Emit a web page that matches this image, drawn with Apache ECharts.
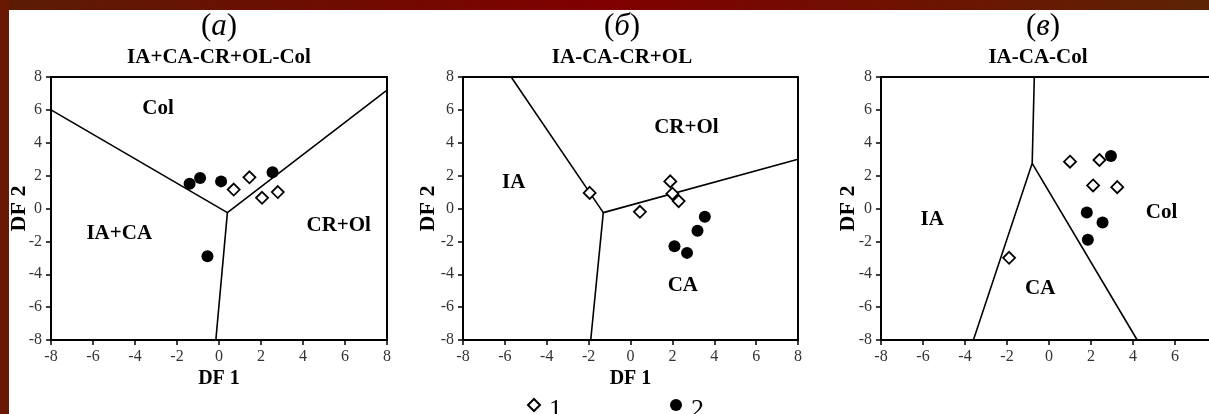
<!DOCTYPE html>
<html>
<head>
<meta charset="utf-8">
<script src="https://cdn.jsdelivr.net/npm/echarts@6/dist/echarts.min.js"></script>
<style>
html,body{margin:0;padding:0;background:#fff;}
#chart{width:1209px;height:414px;}
</style>
</head>
<body>
<div id="chart"></div>
<script>
// ---------- data ----------
const panelLetters = ['а', 'б', 'в'];
const panelTitles = ['IA+CA-CR+OL-Col', 'IA-CA-CR+OL', 'IA-CA-Col'];
const seriesNames = ['1', '2'];
const axisTicks = [-8, -6, -4, -2, 0, 2, 4, 6, 8];

// panel (а)
const a_type1 = [[0.7, 1.15], [1.45, 1.9], [2.05, 0.65], [2.8, 1.0]];
const a_type2 = [[-1.4, 1.5], [-0.9, 1.85], [0.1, 1.65], [2.55, 2.2], [-0.55, -2.9]];
const a_bounds = [
  [[-8, 6], [0.4, -0.25], [8, 7.2]],
  [[0.4, -0.25], [-0.15, -8]]
];
const a_regions = [['Col', -2.9, 6.1], ['IA+CA', -4.75, -1.5], ['CR+Ol', 5.7, -1.05]];

// panel (б)
const b_type1 = [[-1.95, 0.95], [0.45, -0.2], [1.9, 1.65], [2.0, 0.9], [2.3, 0.45]];
const b_type2 = [[2.1, -2.3], [2.7, -2.7], [3.2, -1.35], [3.55, -0.5]];
const b_bounds = [
  [[-5.7, 8], [-1.3, -0.25], [8, 3.0]],
  [[-1.3, -0.25], [-1.9, -8]]
];
const b_regions = [['CR+Ol', 2.67, 4.93], ['IA', -5.58, 1.56], ['CA', 2.5, -4.67]];

// panel (в)
const c_type1 = [[1.0, 2.85], [2.4, 2.95], [2.1, 1.4], [3.25, 1.3], [-1.9, -3.0]];
const c_type2 = [[2.95, 3.2], [1.8, -0.25], [2.55, -0.85], [1.85, -1.9]];
const c_bounds = [
  [[-0.7, 8], [-0.8, 2.75]],
  [[-3.6, -8], [-0.8, 2.75], [4.2, -8]]
];
const c_regions = [['IA', -5.56, -0.67], ['Col', 5.36, -0.26], ['CA', -0.42, -4.87]];

const panels = [
  {t1: a_type1, t2: a_type2, bounds: a_bounds, regions: a_regions, xName: 'DF 1'},
  {t1: b_type1, t2: b_type2, bounds: b_bounds, regions: b_regions, xName: 'DF 1'},
  {t1: c_type1, t2: c_type2, bounds: c_bounds, regions: c_regions, xName: ''}
];

// ---------- layout ----------
const SERIF = '"Liberation Serif", "DejaVu Serif", serif';
const grids = [
  {left: 51, top: 77, width: 336, height: 263},
  {left: 463, top: 77, width: 335, height: 263},
  {left: 881, top: 77, width: 336, height: 263}
];
const titleX = [219, 622, 1043];
const subX = [219, 622, 1038];
const yNameGap = [21, 24, 22];

const chart = echarts.init(document.getElementById('chart'), null, {renderer: 'canvas'});

const option = {
  backgroundColor: '#ffffff',
  animation: false,
  title: [],
  legend: {
    data: seriesNames,
    left: 527, top: 397, padding: 0,
    itemWidth: 12, itemHeight: 12,
    itemGap: 108,
    formatter: name => '{t|' + name + '}',
    textStyle: {fontFamily: SERIF, fontSize: 26, color: '#000',
      rich: {t: {fontFamily: SERIF, fontSize: 26, color: '#000', padding: [10, 0, 0, 4]}}}
  },
  grid: [], xAxis: [], yAxis: [], series: [],
  graphic: [
    {type: 'rect', left: 0, top: 0, shape: {width: 1209, height: 10}, z: 100,
     style: {fill: new echarts.graphic.LinearGradient(0, 0, 1, 0, [
       {offset: 0, color: '#5a1c04'}, {offset: 0.5, color: '#800000'}, {offset: 1, color: '#5c2404'}])}},
    {type: 'rect', left: 0, top: 0, shape: {width: 9, height: 414}, z: 100,
     style: {fill: '#6a1704'}}
  ]
};

panels.forEach((p, i) => {
  option.title.push({
    text: '{p|(}{i|' + panelLetters[i] + '}{p|)}',
    left: titleX[i], top: 11, textAlign: 'center', padding: 0,
    textStyle: {fontWeight: 'normal', rich: {
      p: {fontFamily: SERIF, fontSize: 31, fontWeight: 'normal', color: '#000'},
      i: {fontFamily: SERIF, fontSize: 31, fontWeight: 'normal', fontStyle: 'italic', color: '#000'}
    }}
  });
  option.title.push({
    text: panelTitles[i], left: subX[i], top: 47, textAlign: 'center', padding: 0,
    textStyle: {fontFamily: SERIF, fontSize: 21, fontWeight: 'bold', color: '#000'}
  });
  option.grid.push(Object.assign({show: true, borderColor: '#000', borderWidth: 2,
    backgroundColor: '#fff', containLabel: false, outerBoundsMode: 'none'}, grids[i]));
  option.xAxis.push({
    type: 'value', gridIndex: i, min: -8, max: 8, interval: 2,
    axisLine: {show: true, onZero: false, lineStyle: {color: '#000', width: 2}},
    axisTick: {show: true, length: 5, lineStyle: {color: '#000', width: 1.5}},
    splitLine: {show: false},
    axisLabel: {fontFamily: SERIF, fontSize: 16, color: '#333', margin: 9, hideOverlap: false,
      formatter: v => axisTicks.includes(v) ? String(v) : ''},
    name: p.xName, nameLocation: 'middle', nameGap: 29, nameMoveOverlap: false,
    nameTextStyle: {fontFamily: SERIF, fontSize: 20, fontWeight: 'bold', color: '#000'}
  });
  option.yAxis.push({
    type: 'value', gridIndex: i, min: -8, max: 8, interval: 2,
    axisLine: {show: true, onZero: false, lineStyle: {color: '#000', width: 2}},
    axisTick: {show: true, length: 5, lineStyle: {color: '#000', width: 1.5}},
    splitLine: {show: false},
    axisLabel: {fontFamily: SERIF, fontSize: 16, color: '#333', margin: 9},
    name: 'DF 2', nameLocation: 'middle', nameGap: yNameGap[i], nameMoveOverlap: false,
    nameTextStyle: {fontFamily: SERIF, fontSize: 22, fontWeight: 'bold', color: '#000'}
  });
  p.bounds.forEach(seg => {
    option.series.push({
      type: 'line', xAxisIndex: i, yAxisIndex: i, data: seg,
      symbol: 'none', silent: true, z: 2,
      lineStyle: {color: '#000', width: 1.6}
    });
  });
  option.series.push({
    type: 'scatter', name: '2', xAxisIndex: i, yAxisIndex: i, data: p.t2,
    symbol: 'circle', symbolSize: 12, z: 4,
    itemStyle: {color: '#000', opacity: 1}
  });
  option.series.push({
    type: 'scatter', name: '1', xAxisIndex: i, yAxisIndex: i, data: p.t1,
    symbol: 'diamond', symbolSize: 12, z: 5,
    itemStyle: {color: '#fff', borderColor: '#000', borderWidth: 1.8, opacity: 1}
  });
  option.series.push({
    type: 'scatter', xAxisIndex: i, yAxisIndex: i, silent: true, z: 3,
    data: p.regions.map(r => ({name: r[0], value: [r[1], r[2]]})),
    symbolSize: 0,
    itemStyle: {opacity: 1},
    label: {show: true, position: 'inside', formatter: '{b}',
      fontFamily: SERIF, fontSize: 21, fontWeight: 'bold', color: '#000'}
  });
});

chart.setOption(option);
</script>
</body>
</html>
